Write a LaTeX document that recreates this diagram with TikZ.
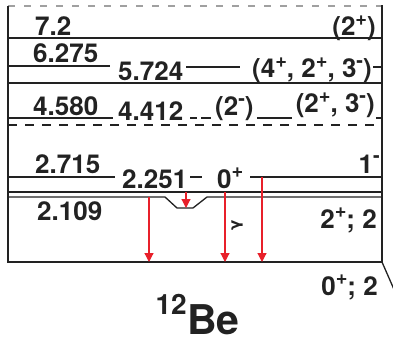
\documentclass[tikz,border=0pt]{standalone}
\usepackage{fontspec}
\setmainfont{TeX Gyre Heros}
\newfontfamily\greekfont{DejaVu Sans}
\usetikzlibrary{arrows.meta}
\definecolor{gred}{HTML}{E8202A}
\definecolor{ink}{HTML}{222222}
\definecolor{lgray}{HTML}{A0A0A0}
\newcommand\parity[1]{\raisebox{0.42em}{\fontsize{20}{20}\selectfont\bfseries #1}}
\tikzset{
  lvl/.style={line width=1.3pt, draw=ink},
  frame/.style={line width=1.1pt, draw=lgray, dash pattern=on 7pt off 9pt},
  lab/.style={font=\fontsize{26}{26}\selectfont\bfseries, text=ink, inner sep=0pt},
  gam/.style={-{Triangle[length=9pt,width=9pt]}, line width=1.2pt, draw=gred}
}
\begin{document}
\begin{tikzpicture}[x=1pt,y=-1pt]
  \useasboundingbox (0,0) rectangle (393,342);
  % outer box
  \draw[frame] (8,6) -- (382,6);
  \draw[lvl] (8,6) -- (8,262) -- (382,262) -- (382,5);
  \draw[lvl] (382,262) -- (396,294);
  % levels
  \draw[lvl] (8,38) -- (382,38);
  \draw[lvl] (8,66) -- (110,66) (186,67) -- (240,67) (373,67) -- (382,67);
  \draw[lvl] (8,83) -- (382,83);
  \draw[lvl] (8,118) -- (113,118) (190,118) -- (197,118) (201,118) -- (211,118)
             (257,118) -- (292,118) (376,118) -- (382,118);
  \draw[lvl, dash pattern=on 9pt off 8pt] (8,125) -- (382,125);
  \draw[lvl] (8,177) -- (115,177) (190,177) -- (202,177) (250,177) -- (382,177);
  \draw[lvl, line width=2.2pt] (8,192) -- (382,192);
  \draw[lvl] (8,197) -- (165,197) -- (177,208) -- (193,208) -- (207,197) -- (382,197);
  % energies and spins
  \node[lab,anchor=base west] (e72) at (35,36) {7.2};
  \node[lab,anchor=base east] (j72) at (376,36) {(2\parity{+})};
  \node[lab,anchor=base west] (e6275) at (33,63) {6.275};
  \node[lab,anchor=base west] (e5724) at (118,81) {5.724};
  \node[lab,anchor=base east] (j5724) at (372,78) {(4\parity{+}, 2\parity{+}, 3\parity{-})};
  \node[lab,anchor=base west] (e4580) at (33,115) {4.580};
  \node[lab,anchor=base west] (e4412) at (118,121) {4.412};
  \node[lab,anchor=base west] (j4412) at (215,116) {(2\parity{-})};
  \node[lab,anchor=base east] (j4580) at (375,113) {(2\parity{+}, 3\parity{-})};
  \node[lab,anchor=base west] (e2715) at (35,173) {2.715};
  \node[lab,anchor=base east] (j2715) at (380,173) {1\parity{-}};
  \node[lab,anchor=base west] (e2251) at (122,188) {2.251};
  \node[lab,anchor=base west] (j2251) at (217,188) {0\parity{+}};
  \node[lab,anchor=base west] (e2109) at (37,220) {2.109};
  \node[lab,anchor=base east] (j2109) at (377,228) {2\parity{+};\ 2};
  \node[lab,anchor=base east] (jgs) at (378,295) {0\parity{+};\ 2};
  \node[lab,anchor=base west,font=\fontsize{41}{41}\selectfont\bfseries] (be) at (187,334) {Be};
  \node[lab,anchor=base east,font=\fontsize{28}{28}\selectfont\bfseries] (mass) at (187,314) {12};
  % gamma transitions
  \coordinate (g1a) at (149,197); \coordinate (g1b) at (149,262);
  \coordinate (g2a) at (186,192); \coordinate (g2b) at (186,208);
  \coordinate (g3a) at (225,192); \coordinate (g3b) at (225,262);
  \coordinate (g4a) at (262,177); \coordinate (g4b) at (262,262);
  \foreach \s/\t in {g1a/g1b, g2a/g2b, g3a/g3b, g4a/g4b}
    \draw[gam] (\s) -- (\t);
  \node[rotate=90, text=ink, inner sep=0pt, font=\greekfont\bfseries\fontsize{15}{15}\selectfont] (gsym) at (237,225) {γ};
\end{tikzpicture}
\end{document}
